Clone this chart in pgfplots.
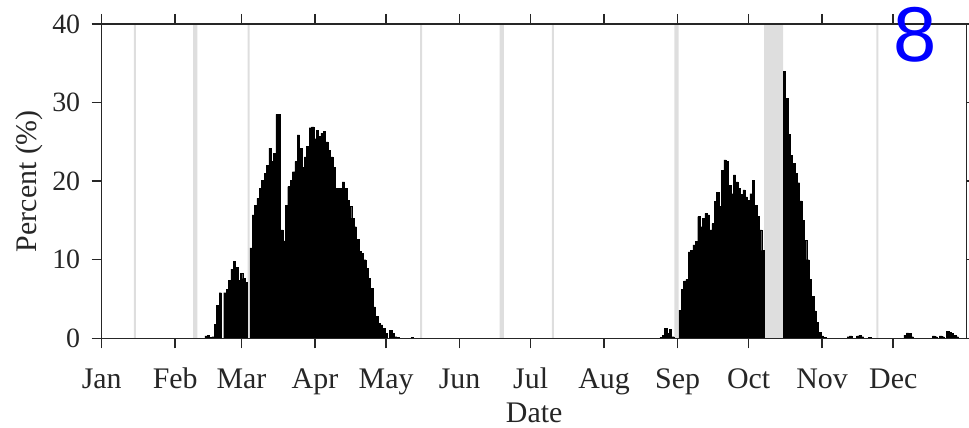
\documentclass[border=0pt]{standalone}
\usepackage{pgfplots}
\pgfplotsset{compat=1.18}
\usepackage{fontspec}
\setmainfont{Liberation Serif}
\newfontfamily\numfont{Liberation Sans}

\definecolor{axgray}{RGB}{38,38,38}
\definecolor{gapgray}{RGB}{222,222,222}

\begin{document}
\begin{tikzpicture}
\begin{axis}[
    name=ax,
    scale only axis,
    width=865bp, height=314.3bp,
    xmin=0, xmax=365,
    ymin=0, ymax=40,
    xtick={0,31,59,90,120,151,181,212,243,273,304,334},
    xticklabels={Jan,Feb,Mar,Apr,May,Jun,Jul,Aug,Sep,Oct,Nov,Dec},
    ytick={0,10,20,30,40},
    /pgf/number format/assume math mode=true,
    tick align=outside,
    major tick length=10bp,
    axis line style={axgray, line width=1.5bp},
    every tick/.style={axgray, line width=1.5bp},
    tick label style={text=axgray, font=\fontsize{28}{30}\selectfont},
    xticklabel style={anchor=base, yshift=-40.5bp, font=\fontsize{30}{32}\selectfont},
    yticklabel style={xshift=-8bp},
    label style={text=axgray, font=\fontsize{30}{32}\selectfont},
    xlabel={Date},
    ylabel={Percent (\%)},
    xlabel style={at={(axis description cs:0.5,-0.236)}, anchor=center},
    ylabel style={at={(axis description cs:-0.0832,0.5)}, anchor=center, rotate=0},
    axis on top,
]

% missing days (gray)
\addplot[ybar, bar width=0.85, fill=gapgray, draw=none] coordinates {
    (14,40) (62,40) (134.8,40) (190.4,40) (327.3,40)
};
\addplot[ybar, bar width=1.8, fill=gapgray, draw=none] coordinates {
    (39.5,40) (168.8,40) (242.5,40)
};
\addplot[ybar, bar width=1, fill=gapgray, draw=none] coordinates {
    (280,40) (281,40) (282,40) (283,40) (284,40) (285,40) (286,40) (287,40)
};

% daily percent
\addplot[ybar, bar width=1, fill=black, draw=black, line width=0.4bp] coordinates {
    (44,0.3) (45,0.4) (46,0.1) (47,0.2) (48,1.8) (49,4.2) (50,5.8)
    (52,5.8) (53,6.2) (54,7.4) (55,8.8) (56,9.8) (57,9.0) (58,7.4) (59,8.3) (60,7.6) (61,7.1)
    (63,11.5) (64,15.7) (65,16.9) (66,17.8) (67,19.1) (68,20.1) (69,21.0) (70,22.0)
    (71,24.2) (72,22.5) (73,23.5) (74,28.5) (75,28.5) (76,13.8) (77,12.4) (78,16.9)
    (79,19.3) (80,20.1) (81,21.2) (82,22.5) (83,25.9) (84,24.2) (85,21.8) (86,23.1)
    (87,24.4) (88,26.8) (89,26.9) (90,25.4) (91,26.5) (92,25.7) (93,26.1) (94,26.3)
    (95,25.0) (96,23.9) (97,23.1) (98,21.8) (99,19.1) (100,19.1) (101,19.1) (102,19.9)
    (103,19.1) (104,17.6) (105,16.8) (106,15.3) (107,14.2) (108,12.6) (109,11.1) (110,10.8)
    (111,10.0) (112,8.9) (113,7.6) (114,6.4) (115,4.0) (116,2.8) (117,1.9) (118,1.7)
    (119,1.3) (120,0.6) (122,1.0) (123,0.6) (124,0.2) (125,0.1) (131,0.1)
    (236,0.1) (237,0.4) (238,1.3) (239,0.6) (240,1.1) (241,0.2)
    (244,3.6) (245,6.2) (246,7.3) (247,7.5) (248,11.0) (249,11.2) (250,11.9) (251,12.3)
    (252,15.5) (253,14.2) (254,15.3) (255,15.9) (256,15.7) (257,13.8) (258,14.6) (259,17.4)
    (260,18.6) (261,16.8) (262,21.4) (263,22.7) (264,22.5) (265,19.5) (266,18.4) (267,20.8)
    (268,19.9) (269,19.1) (270,18.3) (271,18.9) (272,18.0) (273,17.6) (274,18.4) (275,20.1)
    (276,16.9) (277,15.5) (278,13.8) (279,11.2)
    (288,34.0) (289,30.5) (290,26.0) (291,23.3) (292,22.3) (293,21.0) (294,19.8) (295,17.5)
    (296,15.0) (297,12.5) (298,10.0) (299,7.5) (300,5.3) (301,3.5) (302,2.0) (303,0.8)
    (304,0.3) (305,0.1)
    (315,0.2) (316,0.3) (319,0.3) (320,0.4) (321,0.2) (324,0.1)
    (339,0.4) (340,0.7) (341,0.6) (342,0.2) (351,0.3) (352,0.2) (354,0.3) (355,0.2)
    (357,0.9) (358,0.8) (359,0.6) (360,0.4) (361,0.2)
};
\end{axis}
\node[anchor=base, text=blue, font=\numfont\fontsize{78}{80}\selectfont, inner sep=0pt]
    at ([xshift=813.3bp, yshift=-38bp]ax.north west) {8};
\pgfresetboundingbox
\path[use as bounding box] ([xshift=-101.7bp,yshift=-89.7bp]ax.south west)
    rectangle ([xshift=2.3bp,yshift=24bp]ax.north east);
\end{tikzpicture}
\end{document}
